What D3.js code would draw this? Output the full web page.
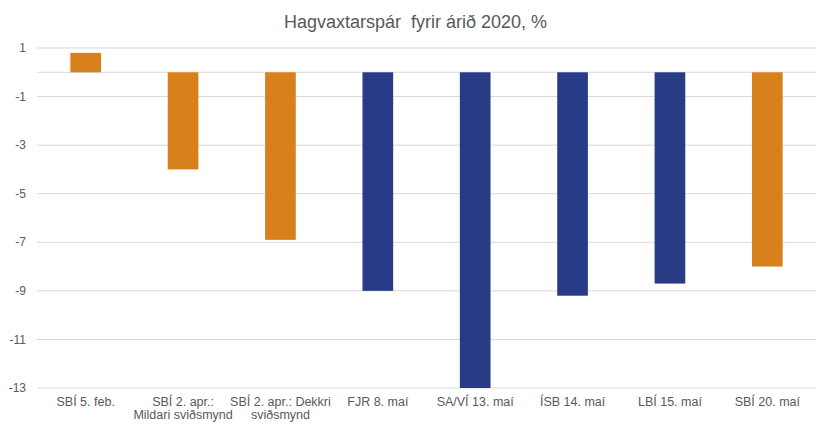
<!DOCTYPE html>
<html>
<head>
<meta charset="utf-8">
<script src="https://cdn.jsdelivr.net/npm/d3@7"></script>
<style>
  body { margin: 0; background: #fff; }
  text { font-family: Arial, "Liberation Sans", sans-serif; }
</style>
</head>
<body>
<svg id="chart" width="831" height="431"></svg>
<script>
// forecasts of GDP growth for 2020
const categories = ["SBÍ 5. feb.", "SBÍ 2. apr.:|Mildari sviðsmynd", "SBÍ 2. apr.: Dekkri|sviðsmynd",
  "FJR 8. maí", "SA/VÍ 13. maí", "ÍSB 14. maí", "LBÍ 15. maí", "SBÍ 20. maí"];
const values = [0.8, -4.0, -6.9, -9.0, -13.0, -9.2, -8.7, -8.0];
const sources = ["SBÍ", "SBÍ", "SBÍ", "other", "other", "other", "other", "SBÍ"];
const yTicks = [1, -1, -3, -5, -7, -9, -11, -13];

const orange = "#d8801c";
const blue = "#283b86";

const margin = { top: 48, right: 15, bottom: 43, left: 37 };
const width = 831;
const height = 431;

let svg = d3.select("#chart");

let x = d3.scaleBand()
  .domain(categories)
  .range([margin.left, width - margin.right])
  .paddingInner(0.685)
  .paddingOuter(0.3425);

let y = d3.scaleLinear()
  .domain([-13, 1])
  .range([height - margin.bottom, margin.top]);

//gridlines
svg.append("g")
  .selectAll("line")
  .data(yTicks.concat([0]))
  .join("line")
  .attr("x1", margin.left)
  .attr("x2", width - margin.right)
  .attr("y1", d => y(d))
  .attr("y2", d => y(d))
  .attr("stroke", "#d9d9d9")
  .attr("stroke-width", 1);

//y tick labels
svg.append("g")
  .selectAll("text")
  .data(yTicks)
  .join("text")
  .attr("x", 26)
  .attr("y", d => y(d))
  .attr("dy", "0.35em")
  .attr("text-anchor", "end")
  .attr("fill", "#595959")
  .attr("font-size", "12px")
  .text(d => d);

//bars
svg.append("g")
  .selectAll("rect")
  .data(values)
  .join("rect")
  .attr("x", (d, i) => x(categories[i]))
  .attr("width", x.bandwidth())
  .attr("y", d => y(Math.max(0, d)))
  .attr("height", d => Math.abs(y(d) - y(0)))
  .attr("fill", (d, i) => sources[i] === "SBÍ" ? orange : blue);

//category labels
let labels = svg.append("g")
  .selectAll("text")
  .data(categories)
  .join("text")
  .attr("text-anchor", "middle")
  .attr("fill", "#595959")
  .attr("font-size", "12.5px")
  .attr("transform", d => `translate(${x(d) + x.bandwidth() / 2},${height - margin.bottom + 17.5})`);

labels.selectAll("tspan")
  .data(d => d.split("|"))
  .join("tspan")
  .attr("x", 0)
  .attr("dy", (d, i) => i === 0 ? 0 : 13.5)
  .text(d => d);

//title
svg.append("text")
  .attr("x", width / 2)
  .attr("y", 28)
  .attr("text-anchor", "middle")
  .attr("fill", "#595959")
  .attr("font-size", "18px")
  .attr("xml:space", "preserve")
  .text("Hagvaxtarspár  fyrir árið 2020, %");
</script>
</body>
</html>
